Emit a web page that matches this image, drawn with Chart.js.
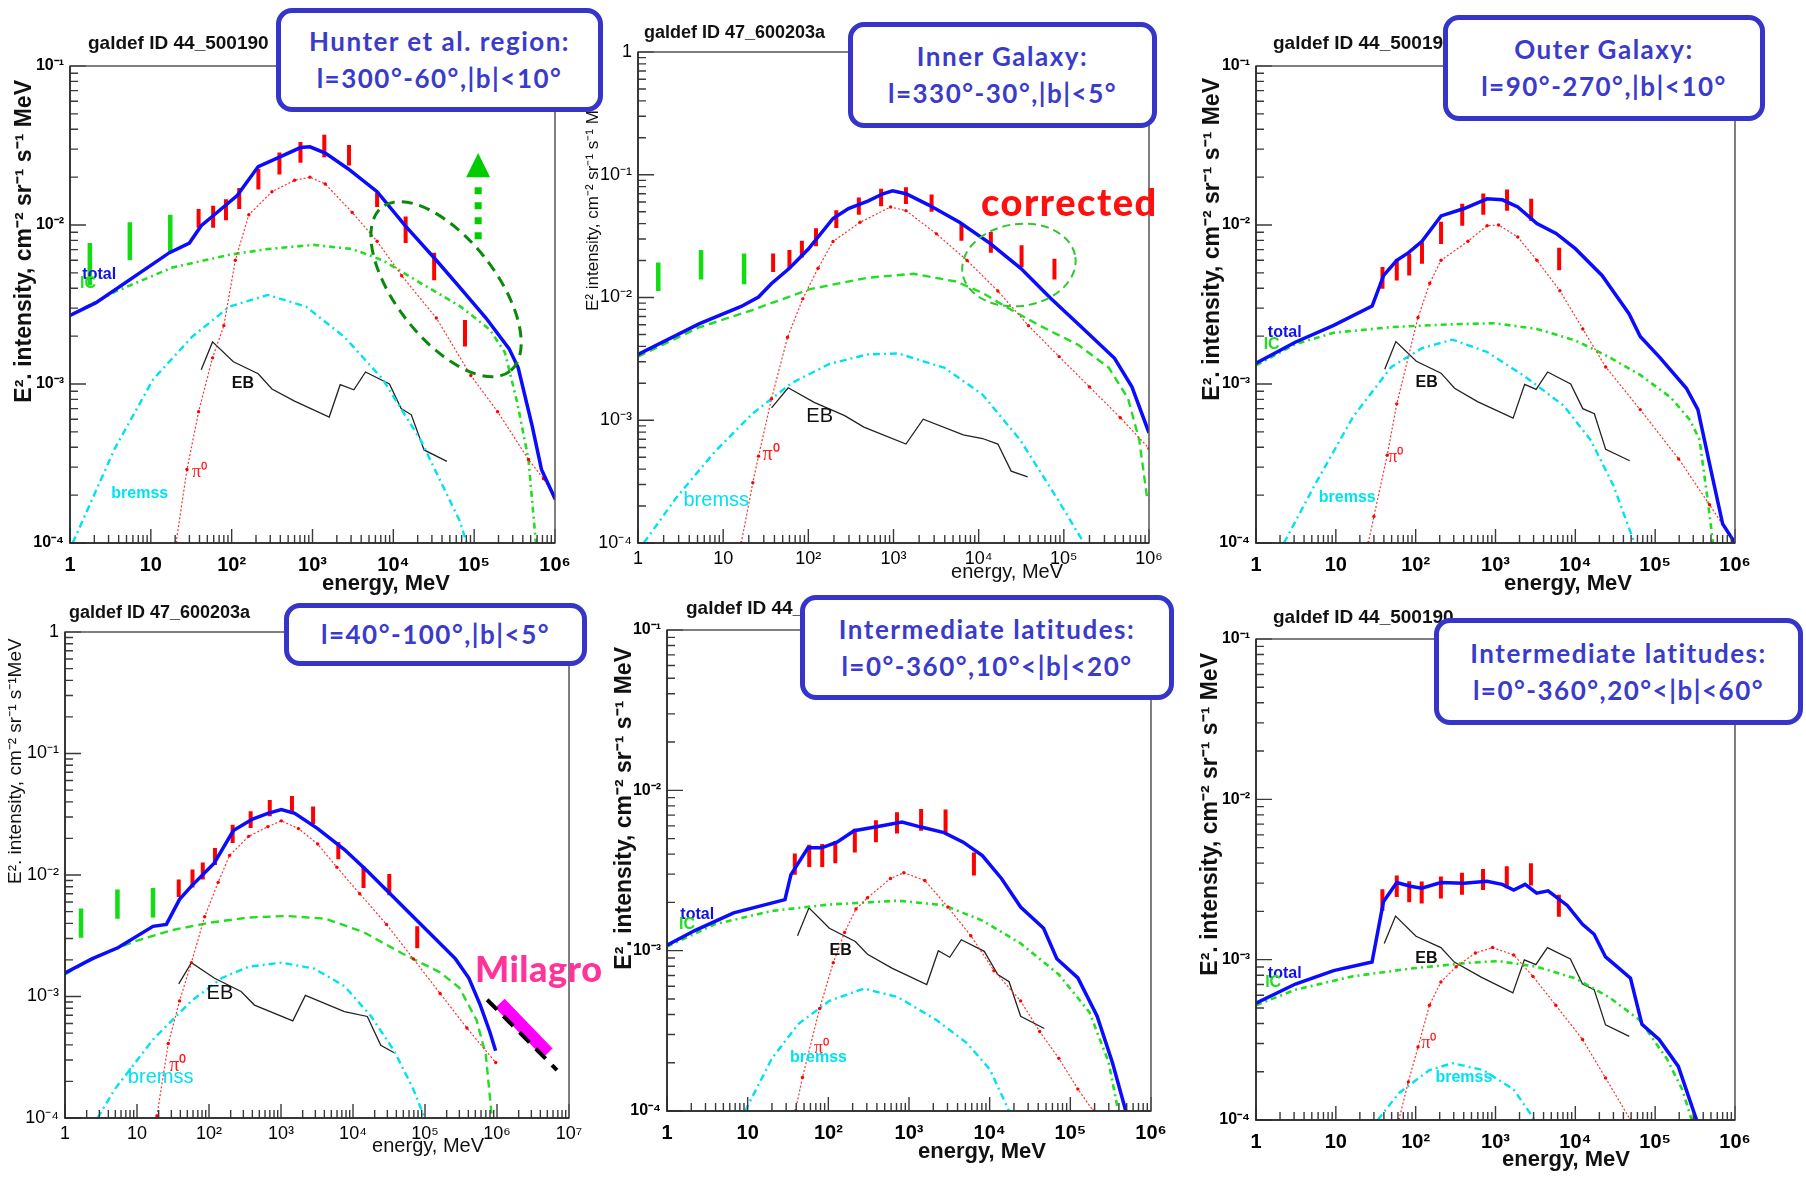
<!DOCTYPE html>
<html>
<head>
<meta charset="utf-8">
<title>Diffuse gamma-ray spectra, six sky regions</title>
<script src="https://cdn.jsdelivr.net/npm/chart.js@4.4.1/dist/chart.umd.min.js"></script>
<style>
  html, body { margin: 0; padding: 0; background: #fff; }
  #page { position: relative; width: 1806px; height: 1177px; overflow: hidden; background: #fff; }
  canvas { position: absolute; z-index: 1; }
  .box {
    position: absolute; z-index: 5; box-sizing: border-box;
    border: 5px solid #3535c9; border-radius: 16px; background: #fff;
    display: flex; flex-direction: column; justify-content: center; align-items: center;
    color: #3b3bcb; font-family: "Comic Sans MS", Lato, sans-serif; font-weight: 700;
    font-size: 26px; letter-spacing: 1.5px; line-height: 37px; white-space: nowrap;
  }
  .note { position: absolute; z-index: 5; font-family: "Comic Sans MS", Lato, sans-serif; font-weight: 900; white-space: nowrap; }
</style>
</head>
<body>
<div id="page">
  <div class="box" style="left:276px;top:8px;width:327px;height:104px;"><div>Hunter et al. region:</div><div>l=300°-60°,|b|&lt;10°</div></div>
  <div class="box" style="left:848px;top:22px;width:309px;height:106px;"><div>Inner Galaxy:</div><div>l=330°-30°,|b|&lt;5°</div></div>
  <div class="box" style="left:1443px;top:15px;width:322px;height:106px;"><div>Outer Galaxy:</div><div>l=90°-270°,|b|&lt;10°</div></div>
  <div class="box" style="left:284px;top:603px;width:303px;height:63px;"><div>l=40°-100°,|b|&lt;5°</div></div>
  <div class="box" style="left:800px;top:595px;width:374px;height:105px;"><div>Intermediate latitudes:</div><div>l=0°-360°,10°&lt;|b|&lt;20°</div></div>
  <div class="box" style="left:1434px;top:618px;width:369px;height:107px;"><div>Intermediate latitudes:</div><div>l=0°-360°,20°&lt;|b|&lt;60°</div></div>
  <div class="note" style="left:981px;top:178px;font-size:38px;letter-spacing:1.5px;color:#ff1010;">corrected</div>
  <div class="note" style="left:475px;top:946px;font-size:36px;letter-spacing:0.5px;color:#ff3399;">Milagro</div>
</div>
<script>
// --- Data: [energy MeV, E^2 intensity] ; bars: [energy, low, high] ---

// Panel 1: Hunter et al. region (galdef 44_500190)
const p1Total = [[1,2.7e-3],[2.1,3.25e-3],[17,6.7e-3],[30,7.7e-3],[42,9.9e-3],[61,1.16e-2],[117,1.53e-2],[213,2.33e-2],[390,2.67e-2],[710,3.07e-2],[930,3.1e-2],[1440,2.83e-2],[2750,2.26e-2],[6300,1.62e-2],[1.4e4,9.9e-3],[3.4e4,6.0e-3],[6.6e4,4.07e-3],[1.4e5,2.6e-3],[2.7e5,1.67e-3],[3.5e5,1.27e-3],[5.2e5,5.5e-4],[6.8e5,2.9e-4],[1e6,1.9e-4]];
const p1Pion = [[20.5,1e-4],[28,2.9e-4],[39,6.7e-4],[58,1.46e-3],[80,2.33e-3],[111,6.0e-3],[163,1.16e-2],[315,1.62e-2],[600,1.91e-2],[930,2.0e-2],[1440,1.81e-2],[3100,1.2e-2],[6300,7.9e-3],[1.27e4,4.8e-3],[3.4e4,2.6e-3],[9.1e4,1.13e-3],[1.95e5,6.7e-4],[4.7e5,3.35e-4],[7.2e5,2.54e-4],[1e6,1.9e-4]];
const p1IC = [[1,2.7e-3],[3.6,3.8e-3],[18.4,5.4e-3],[94,6.5e-3],[280,7.06e-3],[1040,7.5e-3],[3100,7.06e-3],[7400,6.0e-3],[2.2e4,4.3e-3],[6.6e4,3.1e-3],[1.56e5,2.2e-3],[2.4e5,1.58e-3],[3.4e5,7.7e-4],[4.7e5,3.35e-4],[5.8e5,1e-4]];
const p1Brems = [[1.08,1e-4],[3.6,3.95e-4],[10.7,1.07e-3],[32,1.97e-3],[94,3.07e-3],[280,3.63e-3],[830,3.07e-3],[2500,1.97e-3],[7400,1.07e-3],[2.2e4,4.4e-4],[6.6e4,1.38e-4],[8.1e4,1e-4]];
const p1EB = [[42,1.23e-3],[58,1.84e-3],[105,1.38e-3],[213,1.16e-3],[315,9.3e-4],[600,7.8e-4],[1610,6.2e-4],[2200,9.9e-4],[3250,9.2e-4],[4530,1.19e-3],[8950,1.0e-3],[1.25e4,7.0e-4],[1.67e4,6.4e-4],[2.4e4,3.85e-4],[4.6e4,3.26e-4]];
const p1Red = [[39,9.6e-3,1.26e-2],[59,9.6e-3,1.32e-2],[85,1.07e-2,1.45e-2],[124,1.26e-2,1.71e-2],[214,1.67e-2,2.26e-2],[390,2.08e-2,2.86e-2],[710,2.46e-2,3.33e-2],[1400,2.67e-2,3.69e-2],[2830,2.37e-2,3.19e-2],[6300,1.3e-2,1.6e-2],[1.42e4,7.7e-3,1.13e-2],[3.2e4,4.5e-3,6.7e-3],[7.7e4,1.72e-3,2.53e-3]];
const p1Green = [[1.76,4.17e-3,7.7e-3],[5.5,6.0e-3,1.04e-2],[17.4,6.7e-3,1.16e-2]];

// Panel 2: Inner Galaxy (galdef 47_600203a)
const p2Total = [[1,3.44e-3],[5.2,6.1e-3],[16.3,8.45e-3],[26,1.01e-2],[37,1.3e-2],[60,1.73e-2],[100,2.48e-2],[195,4.4e-2],[296,5.3e-2],[500,6.1e-2],[752,7.0e-2],[975,7.4e-2],[1400,7.0e-2],[2600,5.66e-2],[5960,4.1e-2],[1.36e4,2.76e-2],[3.12e4,1.73e-2],[7.1e4,9.75e-3],[1.63e5,5.7e-3],[3.94e5,3.2e-3],[6.3e5,1.87e-3],[1e6,7.9e-4]];
const p2Pion = [[16.3,1e-4],[22.3,3.1e-4],[26,5.1e-4],[37,1.5e-3],[57,4.75e-3],[86,9.75e-3],[130,1.73e-2],[195,2.86e-2],[405,4.1e-2],[925,5.46e-2],[1400,5.1e-2],[3200,3.3e-2],[7330,2.0e-2],[1.68e4,1.13e-2],[3.84e4,5.9e-3],[8.8e4,3.3e-3],[2.0e5,1.87e-3],[4.6e5,1.05e-3],[1e6,5.9e-4]];
const p2IC = [[1,3.3e-3],[5.2,5.7e-3],[22,7.9e-3],[105,1.17e-2],[500,1.45e-2],[1720,1.56e-2],[5400,1.35e-2],[1.11e4,1.09e-2],[2.06e4,8.45e-3],[5.2e4,5.9e-3],[1.47e5,4.12e-3],[3.37e5,2.68e-3],[5.66e5,1.51e-3],[7.7e5,6.85e-4],[9.5e5,2.33e-4]];
const p2Brems = [[1.17,1e-4],[2.8,2.33e-4],[7.9,5.5e-4],[22,1.13e-3],[63,2.0e-3],[177,2.88e-3],[497,3.44e-3],[1140,3.5e-3],[3940,2.68e-3],[1.11e4,1.62e-3],[3.1e4,6.85e-4],[8.8e4,2.17e-4],[1.72e5,1e-4]];
const p2EB = [[37,1.26e-3],[58,1.84e-3],[117,1.4e-3],[267,1.09e-3],[449,8.8e-4],[1400,6.4e-4],[2230,1.02e-3],[6600,7.6e-4],[1.11e4,7.1e-4],[1.68e4,6.4e-4],[2.41e4,3.85e-4],[3.76e4,3.46e-4]];
const p2Red = [[38.6,1.61e-2,2.28e-2],[60,1.73e-2,2.44e-2],[84,2.12e-2,2.9e-2],[123,2.62e-2,3.66e-2],[213,3.68e-2,5.15e-2],[392,4.73e-2,6.53e-2],[715,5.54e-2,7.7e-2],[1400,5.78e-2,7.9e-2],[2800,5.0e-2,6.9e-2],[6280,2.9e-2,3.95e-2],[1.39e4,2.31e-2,3.42e-2],[3.19e4,1.76e-2,2.66e-2],[7.76e4,1.4e-2,2.07e-2]];
const p2Green = [[1.73,1.13e-2,1.93e-2],[5.5,1.4e-2,2.44e-2],[17.6,1.28e-2,2.28e-2]];

// Panel 3: Outer Galaxy (galdef 44_500190)
const p3Total = [[1,1.35e-3],[3.1,1.83e-3],[9.4,2.34e-3],[28.5,3.09e-3],[39.7,4.82e-3],[58,6.0e-3],[81.5,6.7e-3],[120,7.9e-3],[208,1.14e-2],[405,1.27e-2],[785,1.46e-2],[1220,1.44e-2],[1900,1.3e-2],[3300,1.02e-2],[5740,8.85e-3],[1e4,7.1e-3],[2.16e4,4.82e-3],[4.7e4,2.77e-3],[6.5e4,1.99e-3],[1.14e5,1.47e-3],[2.46e5,9.4e-4],[3.43e5,6.9e-4],[5.0e5,2.86e-4],[7.0e5,1.32e-4],[1e6,1e-4]];
const p3Pion = [[25.5,1e-4],[30,1.47e-4],[44,3.57e-4],[58,7.5e-4],[107,2.62e-3],[150,4.3e-3],[208,6.0e-3],[452,7.9e-3],[785,9.9e-3],[1094,1e-2],[1900,8.4e-3],[3300,6.0e-3],[6400,3.86e-3],[1.24e4,2.22e-3],[2.4e4,1.28e-3],[6.5e4,6.9e-4],[1.97e5,3.38e-4],[4.8e5,1.74e-4],[1e6,1e-4]];
const p3IC = [[1,1.31e-3],[3.1,1.78e-3],[9.4,2.1e-3],[49.5,2.28e-3],[260,2.37e-3],[980,2.41e-3],[3300,2.22e-3],[1e4,1.88e-3],[2.7e4,1.47e-3],[6.5e4,1.14e-3],[1.58e5,8.2e-4],[2.75e5,5.9e-4],[3.6e5,4.45e-4],[4.5e5,1.94e-4],[5.3e5,1e-4]];
const p3Brems = [[2.24,1e-4],[5.4,2.3e-4],[16.4,6.2e-4],[49.5,1.28e-3],[120,1.68e-3],[290,1.9e-3],[785,1.59e-3],[2370,1.11e-3],[7160,7.3e-4],[1.55e4,4.45e-4],[3.0e4,2.3e-4],[5.5e4,1e-4]];
const p3EB = [[41,1.24e-3],[56.5,1.85e-3],[102,1.39e-3],[208,1.17e-3],[307,9.4e-4],[595,7.75e-4],[1660,6.1e-4],[2320,9.95e-4],[3230,9.25e-4],[4500,1.19e-3],[8740,1.0e-3],[1.24e4,7.0e-4],[1.73e4,6.5e-4],[2.4e4,3.88e-4],[4.8e4,3.29e-4]];
const p3Red = [[38.4,3.97e-3,5.45e-3],[58,4.48e-3,6.1e-3],[83,4.82e-3,6.6e-3],[120,5.7e-3,7.8e-3],[208,7.6e-3,1.05e-2],[383,9.9e-3,1.36e-2],[703,1.16e-2,1.58e-2],[1395,1.23e-2,1.67e-2],[2800,1.06e-2,1.46e-2],[6270,5.2e-3,7.2e-3]];

// Panel 4: l=40-100 (galdef 47_600203a) with Milagro
const p4Total = [[1,1.56e-3],[2.36,2.04e-3],[5.5,2.53e-3],[16.7,3.78e-3],[25.6,3.92e-3],[39,6.3e-3],[57,8.1e-3],[118,1.25e-2],[218,2.32e-2],[403,2.89e-2],[657,3.22e-2],[1010,3.46e-2],[1550,3.22e-2],[3230,2.41e-2],[7600,1.62e-2],[1.58e4,1.08e-2],[3.73e4,6.5e-3],[8.8e4,3.92e-3],[2.65e5,2.04e-3],[4.06e5,1.42e-3],[5.86e5,8.5e-4],[7.96e5,5.1e-4],[9.57e5,3.57e-4]];
const p4Pion = [[18.9,1.04e-4],[27.2,4.1e-4],[39,9.2e-4],[57,1.9e-3],[87,4.53e-3],[134,8.7e-3],[193,1.45e-2],[356,2.08e-2],[657,2.5e-2],[1010,2.79e-2],[1750,2.41e-2],[3230,1.8e-2],[5960,1.16e-2],[1.24e4,7.0e-3],[2.92e4,3.92e-3],[6.9e4,2.04e-3],[1.62e5,1.06e-3],[3.82e5,5.5e-4],[9.6e5,2.86e-4]];
const p4IC = [[1,1.52e-3],[2.66,2.11e-3],[9.1,2.83e-3],[30.8,3.52e-3],[105,4.06e-3],[356,4.47e-3],[1210,4.6e-3],[4120,4.37e-3],[1.4e4,3.39e-3],[4.77e4,2.27e-3],[1.62e5,1.58e-3],[3.0e5,1.18e-3],[5.2e5,6.4e-4],[7.0e5,3.3e-4],[8.5e5,1e-4]];
const p4Brems = [[2.83,1e-4],[4.9,1.72e-4],[16.7,4.43e-4],[57,9.2e-4],[151,1.42e-3],[356,1.76e-3],[1010,1.9e-3],[2860,1.7e-3],[7600,1.22e-3],[1.79e4,6.85e-4],[3.73e4,3.57e-4],[6.9e4,1.72e-4],[9.9e4,1e-4]];
const p4EB = [[38,1.27e-3],[57,1.9e-3],[118,1.42e-3],[279,1.1e-3],[428,8.5e-4],[1460,6.3e-4],[2180,1.02e-3],[7600,7.5e-4],[1.58e4,6.85e-4],[2.43e4,3.97e-4],[3.73e4,3.44e-4]];
const p4Red = [[38,6.6e-3,9.2e-3],[59,7.9e-3,1.11e-2],[82,9.2e-3,1.27e-2],[121,1.21e-2,1.67e-2],[213,1.83e-2,2.59e-2],[379,2.44e-2,3.34e-2],[698,3.04e-2,4.15e-2],[1420,3.18e-2,4.47e-2],[2790,2.63e-2,3.67e-2],[6250,1.35e-2,1.87e-2],[1.4e4,7.8e-3,1.18e-2],[3.19e4,6.8e-3,1.02e-2],[7.8e4,2.5e-3,3.78e-3]];
const p4Green = [[1.67,3.04e-3,5.3e-3],[5.35,4.37e-3,7.6e-3],[16.7,4.47e-3,7.8e-3]];
const p4Milagro = [[1.1e6,8.8e-4],[5.1e6,3.43e-4]];
const p4MilagroFit = [[7.3e5,9.4e-4],[6.8e6,2.48e-4]];

// Panel 5: 10<|b|<20 (galdef 44_500190)
const p5Total = [[1,1.08e-3],[2.24,1.34e-3],[6.7,1.72e-3],[29,2.08e-3],[34.4,2.98e-3],[56,4.38e-3],[82.5,4.38e-3],[128,4.75e-3],[209,5.6e-3],[381,5.9e-3],[819,6.35e-3],[1410,5.9e-3],[2720,5.45e-3],[4700,4.75e-3],[8110,3.92e-3],[1.4e4,2.82e-3],[2.42e4,1.87e-3],[4.66e4,1.38e-3],[6.8e4,8.9e-4],[1.24e5,6.76e-4],[2.15e5,3.9e-4],[3.33e5,2.0e-4],[4.87e5,1e-4]];
const p5Pion = [[39,1e-4],[47.8,1.62e-4],[78,4.36e-4],[115,8.4e-4],[159,1.3e-3],[220,1.82e-3],[306,2.14e-3],[589,2.82e-3],[863,3.06e-3],[1570,2.74e-3],[3030,1.87e-3],[5840,1.24e-3],[1.13e4,7.5e-4],[2.42e4,4.86e-4],[4.17e4,3.13e-4],[7.2e4,2.13e-4],[1.24e5,1.37e-4],[1.93e5,1e-4]];
const p5IC = [[1,1.06e-3],[3.9,1.46e-3],[20,1.77e-3],[103,1.94e-3],[733,2.05e-3],[2720,1.92e-3],[8110,1.54e-3],[2.42e4,1.11e-3],[7.2e4,7.1e-4],[1.73e5,4.12e-4],[2.98e5,2.02e-4],[3.92e5,1e-4]];
const p5Brems = [[9.3,1e-4],[20,2.13e-4],[42.8,3.5e-4],[103,4.86e-4],[274,5.8e-4],[733,5.13e-4],[2190,3.69e-4],[5240,2.65e-4],[1.01e4,1.81e-4],[1.74e4,1e-4]];
const p5EB = [[41.5,1.24e-3],[57.5,1.85e-3],[103,1.38e-3],[216,1.14e-3],[306,9.5e-4],[622,7.75e-4],[1660,6.15e-4],[2310,1.0e-3],[3200,9.1e-4],[4450,1.17e-3],[8570,9.9e-4],[1.26e4,7.1e-4],[1.74e4,6.4e-4],[2.42e4,3.9e-4],[4.76e4,3.27e-4]];
const p5Red = [[38.4,2.98e-3,4.03e-3],[58,3.32e-3,4.57e-3],[84,3.32e-3,4.62e-3],[122,3.51e-3,4.83e-3],[213,4.09e-3,5.75e-3],[389,4.75e-3,6.5e-3],[710,5.38e-3,7.3e-3],[1413,5.6e-3,7.65e-3],[2840,5.45e-3,7.6e-3],[6380,2.94e-3,4.09e-3]];

// Panel 6: 20<|b|<60 (galdef 44_500190)
const p6Total = [[1,5.36e-4],[3.12,7.05e-4],[9.4,8.55e-4],[28.4,9.66e-4],[39.5,2.3e-3],[58,3.03e-3],[86,2.87e-3],[119,2.79e-3],[207,3.03e-3],[402,3.0e-3],[780,3.08e-3],[1213,2.95e-3],[1690,2.72e-3],[2350,2.95e-3],[3280,2.6e-3],[4560,2.69e-3],[7930,2.18e-3],[1.23e4,1.66e-3],[1.72e4,1.44e-3],[2.39e4,1.04e-3],[3.33e4,9.04e-4],[4.91e4,7.66e-4],[6.83e4,3.95e-4],[1.12e5,3.18e-4],[1.95e5,2.16e-4],[3.3e5,1e-4]];
const p6Pion = [[61.5,1e-4],[81,1.73e-4],[107,2.85e-4],[149,5.2e-4],[207,7.25e-4],[322,9.04e-4],[560,1.1e-3],[920,1.19e-3],[1690,1.07e-3],[2940,7.87e-4],[5690,5.2e-4],[1.23e4,3.18e-4],[2.39e4,1.83e-4],[4.91e4,1e-4]];
const p6IC = [[1,5.2e-4],[3.12,6.5e-4],[16.3,7.87e-4],[86,8.8e-4],[449,9.55e-4],[1090,9.8e-4],[3280,9.04e-4],[9890,7.66e-4],[2.67e4,5.82e-4],[6.47e4,4.18e-4],[1.4e5,2.41e-4],[2.18e5,1.55e-4],[2.87e5,1e-4]];
const p6Brems = [[33.5,1e-4],[61.5,1.47e-4],[149,2.05e-4],[289,2.26e-4],[699,2.05e-4],[1690,1.55e-4],[3100,1e-4]];
const p6EB = [[40.4,1.26e-3],[56,1.87e-3],[101,1.4e-3],[207,1.19e-3],[305,9.66e-4],[661,7.78e-4],[1650,6.2e-4],[2300,9.98e-4],[3200,9.3e-4],[4470,1.19e-3],[8660,1.01e-3],[1.23e4,7.05e-4],[1.72e4,6.5e-4],[2.39e4,3.92e-4],[4.74e4,3.32e-4]];
const p6Red = [[38.3,2.01e-3,2.75e-3],[58,2.46e-3,3.35e-3],[83,2.28e-3,3.08e-3],[119,2.24e-3,3.07e-3],[207,2.41e-3,3.3e-3],[380,2.54e-3,3.48e-3],[698,2.72e-3,3.68e-3],[1385,2.79e-3,3.82e-3],[2780,2.9e-3,4.0e-3],[6220,1.85e-3,2.54e-3]];

// --- Tick labels ---
const decadeExps = [-4, -3, -2, -1, 0, 1, 2, 3, 4, 5, 6, 7];
const decadeText = ['10⁻⁴', '10⁻³', '10⁻²', '10⁻¹', '1', '10', '10²', '10³', '10⁴', '10⁵', '10⁶', '10⁷'];

// --- Styles ---
const FONT = '"Liberation Sans", Arial, Helvetica, sans-serif';
const C = { blue: '#1010ee', red: '#ff1a1a', green: '#22dd22', cyan: '#00e2f0', black: '#111' };
const STYLE = {
  total: { borderColor: '#0b0bff', borderWidth: 3.5 },
  pion: { borderColor: '#ff3030', borderWidth: 1.2, borderDash: [2, 2], pointRadius: 1.7, pointBackgroundColor: '#ff0000', pointBorderWidth: 0 },
  icDashDot: { borderColor: '#22dd22', borderWidth: 2.6, borderDash: [6, 4, 2, 4] },
  icDash: { borderColor: '#22dd22', borderWidth: 2.4, borderDash: [8, 5] },
  brems: { borderColor: '#00e2f0', borderWidth: 2.4, borderDash: [7, 4, 2, 4] },
  eb: { borderColor: '#222', borderWidth: 1.3 },
  red: { borderColor: '#ff0000', borderWidth: 4 },
  green: { borderColor: '#11dd11', borderWidth: 4.5 },
  milagro: { borderColor: '#ff00ff', borderWidth: 13 },
  milagroFit: { borderColor: '#000', borderWidth: 4, borderDash: [14, 9] }
};

const Y_TITLE = 'E². intensity, cm⁻² sr⁻¹ s⁻¹ MeV';

// --- Panels ---
const panels = [
  { frame: { l: 70, t: 66, r: 555, b: 543 }, xMax: 1e6, yMax: 1e-1, heavy: true,
    total: p1Total, pion: p1Pion, ic: p1IC, icStyle: 'icDashDot', brems: p1Brems, eb: p1EB, red: p1Red, green: p1Green,
    labels: [['total', 2.3, 4.9e-3, 'blue'], ['IC', 1.67, 4.26e-3, 'green'], ['EB', 138, 1.01e-3, 'black'], ['π⁰', 40, 2.8e-4, 'red'], ['bremss', 7.3, 2.06e-4, 'cyan']],
    title: { text: 'galdef ID 44_500190', x: 88, y: 44 },
    yTitle: { text: Y_TITLE, x: 25, y: 80, align: 'right' },
    xTitle: { x: 450, y: 584 },
    ellipse: { E: 4.49e4, v: 3.95e-3, a: 104, b: 50, rot: 52, color: '#0a8a0a', dash: [11, 7], width: 3 },
    arrow: { E: 1.12e5, from: 7.94e-3, to: 1.73e-2, base: 2.0e-2, tip: 2.84e-2 } },
  { frame: { l: 638, t: 52, r: 1149, b: 543 }, xMax: 1e6, yMax: 1, heavy: false,
    total: p2Total, pion: p2Pion, ic: p2IC, icStyle: 'icDash', brems: p2Brems, eb: p2EB, red: p2Red, green: p2Green,
    labels: [['EB', 136, 1.07e-3, 'black'], ['π⁰', 36.6, 5.2e-4, 'red'], ['bremss', 8.3, 2.2e-4, 'cyan']],
    title: { text: 'galdef ID 47_600203a', x: 644, y: 33 },
    yTitle: { text: 'E² intensity, cm⁻² sr⁻¹ s⁻¹ MeV', x: 593, y: 311, align: 'left' },
    xTitle: { x: 1063, y: 572 },
    ellipse: { E: 2.97e4, v: 1.84e-2, a: 57, b: 41, rot: -8, color: '#33c433', dash: [8, 5], width: 2 } },
  { frame: { l: 1256, t: 66, r: 1735, b: 543 }, xMax: 1e6, yMax: 1e-1, heavy: true,
    total: p3Total, pion: p3Pion, ic: p3IC, icStyle: 'icDashDot', brems: p3Brems, eb: p3EB, red: p3Red, green: [],
    labels: [['total', 2.29, 2.1e-3, 'blue'], ['IC', 1.57, 1.78e-3, 'green'], ['EB', 137, 1.02e-3, 'black'], ['π⁰', 56.5, 3.47e-4, 'red'], ['bremss', 13.9, 1.94e-4, 'cyan']],
    title: { text: 'galdef ID 44_500190', x: 1273, y: 44 },
    yTitle: { text: Y_TITLE, x: 1213, y: 78, align: 'right' },
    xTitle: { x: 1632, y: 584 } },
  { frame: { l: 65, t: 632, r: 569, b: 1118 }, xMax: 1e7, yMax: 1, heavy: false,
    total: p4Total, pion: p4Pion, ic: p4IC, icStyle: 'icDash', brems: p4Brems, eb: p4EB, red: p4Red, green: p4Green,
    labels: [['EB', 142, 1.06e-3, 'black'], ['π⁰', 37, 2.7e-4, 'red'], ['bremss', 21.3, 2.14e-4, 'cyan']],
    title: { text: 'galdef ID 47_600203a', x: 69, y: 613 },
    yTitle: { text: 'E². intensity, cm⁻² sr⁻¹ s⁻¹MeV', x: 16, y: 884, align: 'left', size: 19 },
    xTitle: { x: 484, y: 1146 },
    milagro: true },
  { frame: { l: 667, t: 630, r: 1151, b: 1111 }, xMax: 1e6, yMax: 1e-1, heavy: true,
    total: p5Total, pion: p5Pion, ic: p5IC, icStyle: 'icDashDot', brems: p5Brems, eb: p5EB, red: p5Red, green: [],
    labels: [['total', 2.37, 1.67e-3, 'blue'], ['IC', 1.77, 1.46e-3, 'green'], ['EB', 142, 1.0e-3, 'black'], ['bremss', 75.6, 2.16e-4, 'cyan'], ['π⁰', 82.5, 2.45e-4, 'red']],
    title: { text: 'galdef ID 44_500190', x: 686, y: 609 },
    yTitle: { text: Y_TITLE, x: 625, y: 647, align: 'right' },
    xTitle: { x: 1046, y: 1152 } },
  { frame: { l: 1256, t: 639, r: 1735, b: 1120 }, xMax: 1e6, yMax: 1e-1, heavy: true,
    total: p6Total, pion: p6Pion, ic: p6IC, icStyle: 'icDashDot', brems: p6Brems, eb: p6EB, red: p6Red, green: [],
    labels: [['total', 2.29, 8.2e-4, 'blue'], ['IC', 1.64, 7.2e-4, 'green'], ['EB', 136, 1.01e-3, 'black'], ['π⁰', 146, 3.0e-4, 'red'], ['bremss', 402, 1.85e-4, 'cyan']],
    title: { text: 'galdef ID 44_500190', x: 1273, y: 618 },
    yTitle: { text: Y_TITLE, x: 1211, y: 653, align: 'right' },
    xTitle: { x: 1630, y: 1160 } }
];

// --- Helpers ---
const PAD_L = 80, PAD_T = 70, PAD_R = 60, PAD_B = 60;

function isDecade(v) {
  const e = Math.log10(v);
  return Math.abs(e - Math.round(e)) < 1e-6;
}

function isWholeMantissa(v) {
  const m = v / Math.pow(10, Math.floor(Math.log10(v) + 1e-9));
  return Math.abs(m - Math.round(m)) < 1e-6;
}

function decadeLabel(v) {
  if (!isDecade(v)) return '';
  const i = decadeExps.indexOf(Math.round(Math.log10(v)));
  return i < 0 ? '' : decadeText[i];
}

function curve(points, style) {
  return Object.assign({ data: points.map(([x, y]) => ({ x, y })), pointRadius: 0, tension: 0, fill: false }, style);
}

function errorBars(rows, style) {
  const data = [];
  rows.forEach(([x, lo, hi]) => { data.push({ x, y: lo }, { x, y: hi }, { x, y: null }); });
  return Object.assign({ data, pointRadius: 0, spanGaps: false, fill: false }, style);
}

function labelFont(p, key) {
  if (key === 'red') return (p.heavy ? '18px' : '20px') + ' "Liberation Serif", serif';
  return (p.heavy ? 'bold 16px ' : '20px ') + FONT;
}

function makeDecor(p, ox, oy) {
  return {
    id: 'decor',
    afterDraw(chart) {
      const { ctx, chartArea: a, scales: { x, y } } = chart;
      ctx.save();

      // inner ticks (ROOT style)
      ctx.strokeStyle = '#3a3a3a';
      ctx.lineWidth = 1.4;
      ctx.beginPath();
      x.ticks.forEach(t => {
        if (!isWholeMantissa(t.value)) return;
        const px = x.getPixelForValue(t.value);
        const len = isDecade(t.value) ? 14 : 8;
        ctx.moveTo(px, a.bottom); ctx.lineTo(px, a.bottom - len);
      });
      y.ticks.forEach(t => {
        if (!isWholeMantissa(t.value)) return;
        const py = y.getPixelForValue(t.value);
        const len = isDecade(t.value) ? 16 : 8;
        ctx.moveTo(a.left, py); ctx.lineTo(a.left + len, py);
      });
      ctx.stroke();

      // frame
      ctx.strokeStyle = '#555';
      ctx.lineWidth = 1.5;
      ctx.strokeRect(a.left, a.top, a.right - a.left, a.bottom - a.top);
      ctx.strokeStyle = '#222';
      ctx.beginPath();
      ctx.moveTo(a.left, a.top); ctx.lineTo(a.left, a.bottom); ctx.lineTo(a.right, a.bottom);
      ctx.stroke();

      // curve labels
      ctx.textAlign = 'center';
      ctx.textBaseline = 'middle';
      p.labels.forEach(([text, E, v, key]) => {
        ctx.font = labelFont(p, key);
        ctx.fillStyle = C[key];
        ctx.fillText(text, x.getPixelForValue(E), y.getPixelForValue(v));
      });

      // dashed ellipse
      if (p.ellipse) {
        const e = p.ellipse;
        ctx.strokeStyle = e.color;
        ctx.lineWidth = e.width;
        ctx.setLineDash(e.dash);
        ctx.beginPath();
        ctx.ellipse(x.getPixelForValue(e.E), y.getPixelForValue(e.v), e.a, e.b, e.rot * Math.PI / 180, 0, 2 * Math.PI);
        ctx.stroke();
        ctx.setLineDash([]);
      }

      // dotted upward arrow
      if (p.arrow) {
        const r = p.arrow;
        const px = x.getPixelForValue(r.E);
        ctx.strokeStyle = '#00cc00';
        ctx.fillStyle = '#00cc00';
        ctx.lineWidth = 7;
        ctx.setLineDash([7, 8]);
        ctx.beginPath();
        ctx.moveTo(px, y.getPixelForValue(r.to));
        ctx.lineTo(px, y.getPixelForValue(r.from));
        ctx.stroke();
        ctx.setLineDash([]);
        const yb = y.getPixelForValue(r.base), yt = y.getPixelForValue(r.tip);
        ctx.beginPath();
        ctx.moveTo(px - 12, yb); ctx.lineTo(px + 12, yb); ctx.lineTo(px, yt);
        ctx.closePath();
        ctx.fill();
      }

      // panel title
      ctx.fillStyle = '#111';
      ctx.textAlign = 'left';
      ctx.font = (p.heavy ? 'bold 19px ' : 'bold 18px ') + FONT;
      ctx.fillText(p.title.text, p.title.x - ox, p.title.y - oy);

      // x-axis title
      ctx.textAlign = 'right';
      ctx.font = (p.heavy ? 'bold 22px ' : '20px ') + FONT;
      ctx.fillText('energy, MeV', p.xTitle.x - ox, p.xTitle.y - oy);

      // y-axis title (rotated)
      ctx.save();
      ctx.translate(p.yTitle.x - ox, p.yTitle.y - oy);
      ctx.rotate(-Math.PI / 2);
      ctx.textAlign = p.yTitle.align;
      ctx.font = (p.heavy ? 'bold 23px ' : (p.yTitle.size || 17) + 'px ') + FONT;
      ctx.fillText(p.yTitle.text, 0, 0);
      ctx.restore();

      ctx.restore();
    }
  };
}

// --- Build charts ---
const page = document.getElementById('page');

panels.forEach(p => {
  const f = p.frame;
  const ox = f.l - PAD_L, oy = f.t - PAD_T;
  const canvas = document.createElement('canvas');
  canvas.width = (f.r - f.l) + PAD_L + PAD_R;
  canvas.height = (f.b - f.t) + PAD_T + PAD_B;
  canvas.style.left = ox + 'px';
  canvas.style.top = oy + 'px';
  page.insertBefore(canvas, page.firstChild);

  const datasets = [
    curve(p.total, STYLE.total),
    errorBars(p.red, STYLE.red),
    errorBars(p.green, STYLE.green),
    curve(p.pion, STYLE.pion),
    curve(p.ic, STYLE[p.icStyle]),
    curve(p.brems, STYLE.brems),
    curve(p.eb, STYLE.eb)
  ];
  if (p.milagro) {
    datasets.unshift(curve(p4MilagroFit, STYLE.milagroFit));
    datasets.splice(1, 0, curve(p4Milagro, STYLE.milagro));
  }

  const tickFontX = p.heavy ? { family: FONT, size: 20, weight: 'bold' } : { family: FONT, size: 18 };
  const tickFontY = p.heavy ? { family: FONT, size: 16, weight: 'bold' } : { family: FONT, size: 18 };

  new Chart(canvas, {
    type: 'line',
    data: { datasets },
    options: {
      responsive: false,
      animation: false,
      events: [],
      layout: { padding: { left: 0, top: PAD_T, right: PAD_R, bottom: 0 } },
      plugins: { legend: { display: false }, tooltip: { enabled: false }, title: { display: false } },
      scales: {
        x: {
          type: 'logarithmic', min: 1, max: p.xMax,
          afterFit: s => { s.height = PAD_B; },
          grid: { display: false, drawTicks: false },
          border: { display: false },
          ticks: { autoSkip: false, maxRotation: 0, padding: p.heavy ? 10 : 5, color: '#000', font: tickFontX, callback: v => decadeLabel(v) }
        },
        y: {
          type: 'logarithmic', min: 1e-4, max: p.yMax,
          afterFit: s => { s.width = PAD_L; },
          grid: { display: false, drawTicks: false },
          border: { display: false },
          ticks: { autoSkip: false, padding: 6, color: '#000', font: tickFontY, callback: v => decadeLabel(v) }
        }
      }
    },
    plugins: [makeDecor(p, ox, oy)]
  });
});
</script>
</body>
</html>
